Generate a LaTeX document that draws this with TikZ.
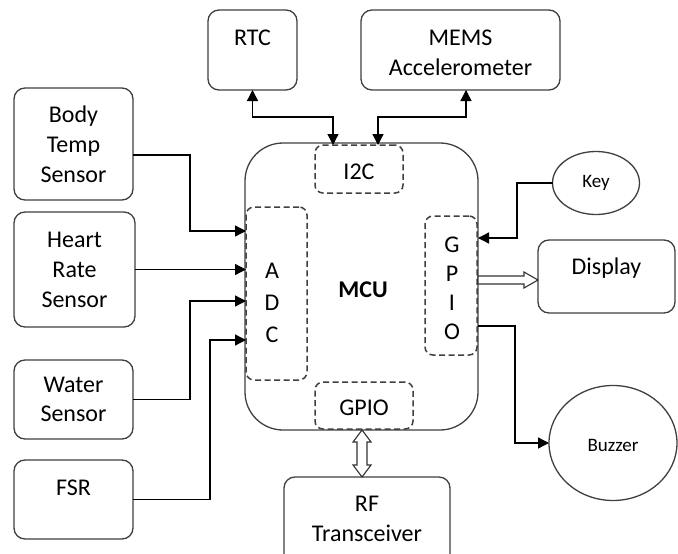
\documentclass[tikz,border=0pt]{standalone}
\usepackage{fontspec}
\setmainfont{Carlito}
\usetikzlibrary{arrows.meta,calc,shapes.geometric}
\begin{document}
\begin{tikzpicture}[x=1pt,y=-1pt,
  every node/.style={inner sep=0pt, outer sep=0pt},
  txt/.style={font=\fontsize{24}{30}\selectfont, align=center, text=black},
  smalltxt/.style={font=\fontsize{19}{22}\selectfont, align=center, text=black},
  box/.style={draw=black!75, line width=1.3pt, rounded corners=11pt, rectangle},
  dbox/.style={draw=black!75, line width=1.5pt, dash pattern=on 6pt off 3.5pt, rounded corners=8pt, rectangle},
  oval/.style={draw=black!75, line width=1.3pt, ellipse},
  arr/.style={draw=black, line width=1.3pt, -{Triangle[length=11pt,width=11pt]}},
  arrb/.style={draw=black, line width=1.3pt, {Triangle[length=11pt,width=11pt]}-{Triangle[length=11pt,width=11pt]}},
  hollow/.style={draw=black!80, fill=white, line width=1.1pt, line join=miter}
]
\clip (0,0) rectangle (678,554);
\fill[white] (0,0) rectangle (678,554);

% MCU and its ports
\node[draw=black!75, line width=1.3pt, rounded corners=38pt, minimum width=233, minimum height=287] (mcu) at (361.5,286.5) {};
\node[txt, font=\fontsize{24}{30}\selectfont\bfseries] (mcut) at (363,290) {MCU};
\node[dbox, minimum width=88, minimum height=48] (i2c) at (359,169) {};
\node[txt] (i2ct) at (359,172) {I2C};
\node[dbox, minimum width=61, minimum height=173] (adc) at (276.5,293.5) {};
\node[txt, font=\fontsize{24}{32}\selectfont] (adct) at (272,303) {A\\D\\C};
\node[dbox, minimum width=52, minimum height=139] (gpioR) at (451,285.5) {};
\node[txt, font=\fontsize{24}{29}\selectfont] (gpioRt) at (452,288) {G\\P\\I\\O};
\node[dbox, minimum width=98, minimum height=47] (gpioB) at (364,405.5) {};
\node[txt] (gpioBt) at (364,408) {GPIO};

% top peripherals
\node[box, minimum width=89, minimum height=80] (rtc) at (252.5,50) {};
\node[txt] (rtct) at ($(rtc.north)+(0,28)$) {RTC};
\node[box, minimum width=199, minimum height=80] (mems) at (460.5,50) {};
\node[txt] (memst) at ($(mems.north)+(0,43)$) {MEMS\\Accelerometer};

% sensors
\node[box, minimum width=119, minimum height=112, txt] (body) at (73.5,144) {Body\\Temp\\Sensor};
\node[box, minimum width=121, minimum height=115, txt] (heart) at (74.5,269.5) {Heart\\Rate\\Sensor};
\node[box, minimum width=119, minimum height=79, txt, font=\fontsize{24}{28.5}\selectfont] (water) at (73.5,399.5) {Water\\Sensor};
\node[box, minimum width=119, minimum height=79] (fsr) at (73.5,499.5) {};
\node[txt] (fsrt) at ($(fsr.north)+(0,28)$) {FSR};

% right side
\node[oval, minimum width=87, minimum height=63] (key) at (596,183) {};
\node[smalltxt] (keyt) at (596,183) {Key};
\node[box, minimum width=137, minimum height=73] (disp) at (606.5,276.5) {};
\node[txt] (dispt) at ($(disp.north)+(0,28)$) {Display};
\node[oval, minimum width=128, minimum height=115] (buz) at (613,443) {};
\node[smalltxt] (buzt) at (613,445) {Buzzer};

% bottom
\node[box, minimum width=166, minimum height=98] (rf) at (367,526) {};
\node[txt] (rft) at ($(rf.north)+(0,42)$) {RF\\Transceiver};

% connectors: sensors to ADC
\draw[arr] ($(body.east)+(0,11)$) -- ++(57,0) |- ($(adc.west)+(0,-62.5)$);
\draw[arr] (heart.east) -- (heart.east -| adc.west);
\draw[arr] (water.east) -- ++(57,0) |- ($(adc.west)+(0,7.5)$);
\draw[arr] (fsr.east) -- ++(77,0) |- ($(adc.west)+(0,46.5)$);

% I2C bus
\draw[arrb] (rtc.south) -- ++(0,27) -| ($(i2c.north)+(-26,0)$);
\draw[arrb] ($(mems.south)+(5.5,0)$) -- ++(0,27) -| ($(i2c.north)+(19,0)$);

% GPIO right
\draw[arr] (key.west) -- ++(-35.5,0) |- ($(gpioR.east)+(1,-47.5)$);
\draw[arr] ($(gpioR.east)+(1,40.5)$) -- ++(37,0) |- (buz.west);
\draw[hollow] ($(gpioR.east)+(1,-9.5)$) -- ++(46,0) -- ++(0,-4) -- ($(disp.west)+(0,3.5)$) -- ++(-14,8) -- ++(0,-4) -- ++(-46,0) -- cycle;

% GPIO bottom to RF
\draw[hollow] ($(gpioB.south)+(-2,1)$) -- ++(9,12) -- ++(-4,0) -- ++(0,23) -- ++(4,0) -- ($(rf.north)+(-5,0)$) -- ++(-9,-12) -- ++(4,0) -- ++(0,-23) -- ++(-4,0) -- cycle;
\end{tikzpicture}
\end{document}
